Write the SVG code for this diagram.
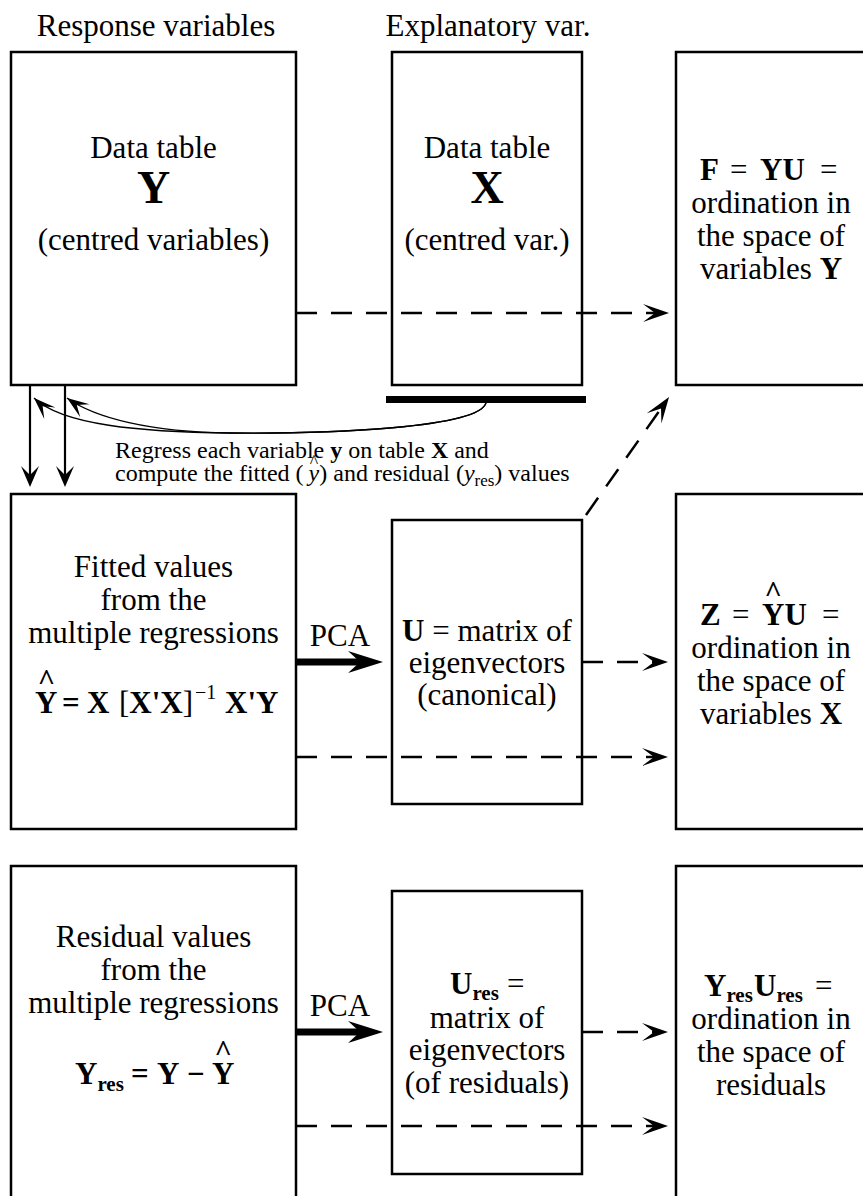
<svg xmlns="http://www.w3.org/2000/svg" width="863" height="1196" viewBox="0 0 863 1196">
<style>
.t{font-family:"Liberation Serif","Times New Roman",serif;font-size:31px;fill:#000}
.m{text-anchor:middle}
.b{font-weight:bold}
.n{font-weight:normal}
.big{font-size:46px;font-weight:bold}
.s{font-size:24px}
.sub{font-size:21px}
.hat{font-family:"Liberation Serif","Times New Roman",serif;font-size:30px;font-weight:bold;text-anchor:middle;fill:#000}
.box{fill:#fff;stroke:#000;stroke-width:2.5}
.dash{fill:none;stroke:#000;stroke-width:2.5;stroke-dasharray:21 14}
.thin{fill:none;stroke:#000;stroke-width:1.3}
.solid{fill:none;stroke:#000;stroke-width:2.2}
</style>
<defs>
<marker id="ah" markerUnits="userSpaceOnUse" viewBox="-14 -10 30 20" refX="0" refY="0" markerWidth="30" markerHeight="20" orient="auto">
<path d="M14,0 L-12,-9 L0,0 L-12,9 Z" fill="#000"/>
</marker>
<marker id="ahs" markerUnits="userSpaceOnUse" viewBox="-24 -10 26 20" refX="0" refY="0" markerWidth="26" markerHeight="20" orient="auto">
<path d="M0,0 L-22,-8 L-12,0 L-22,8 Z" fill="#000"/>
</marker>
</defs>
<rect width="863" height="1196" fill="#fff"/>

<text class="t m" x="156" y="36">Response variables</text>
<text class="t m" x="488" y="36">Explanatory var.</text>

<g id="nodeY">
<rect class="box" x="11" y="52" width="285" height="333"/>
<text class="t m" x="153.5" y="158">Data table</text>
<text class="t m big" x="153.5" y="203">Y</text>
<text class="t m" x="153.5" y="250">(centred variables)</text>
</g>

<g id="nodeX">
<rect class="box" x="392" y="52" width="190" height="333"/>
<text class="t m" x="487" y="158">Data table</text>
<text class="t m big" x="487" y="203">X</text>
<text class="t m" x="487" y="250">(centred var.)</text>
<rect x="386" y="396" width="200" height="7" fill="#000"/>
</g>

<g id="nodeF">
<rect class="box" x="676" y="52" width="190" height="333"/>
<text class="t" y="180"><tspan x="700" class="b">F</tspan><tspan x="730">=</tspan><tspan x="760" class="b">YU</tspan><tspan x="820">=</tspan></text>
<text class="t m" x="771" y="213">ordination in</text>
<text class="t m" x="771" y="246">the space of</text>
<text class="t m" x="771" y="279">variables <tspan class="b">Y</tspan></text>
</g>

<g id="nodeFitted">
<rect class="box" x="11" y="494" width="285" height="335"/>
<text class="t m" x="153.5" y="577">Fitted values</text>
<text class="t m" x="153.5" y="610">from the</text>
<text class="t m" x="153.5" y="643">multiple regressions</text>
<text class="t b" y="713"><tspan x="35">Y</tspan><tspan x="62">=</tspan><tspan x="87">X</tspan><tspan x="119" class="n">[</tspan><tspan>X'X</tspan><tspan class="n">]</tspan><tspan class="n" font-size="20" x="195" dy="-14">−1</tspan><tspan x="225" dy="14">X'Y</tspan></text>
<text class="hat" x="46.5" y="690">^</text>
</g>

<g id="nodeU">
<rect class="box" x="392" y="520" width="190" height="284"/>
<text class="t m" x="487" y="641"><tspan class="b">U</tspan> = matrix of</text>
<text class="t m" x="487" y="673">eigenvectors</text>
<text class="t m" x="487" y="705">(canonical)</text>
</g>

<g id="nodeZ">
<rect class="box" x="676" y="494" width="190" height="335"/>
<text class="t" y="625"><tspan x="700" class="b">Z</tspan><tspan x="732">=</tspan><tspan x="762" class="b">YU</tspan><tspan x="822">=</tspan></text>
<text class="hat" x="773.2" y="602">^</text>
<text class="t m" x="771" y="658">ordination in</text>
<text class="t m" x="771" y="691">the space of</text>
<text class="t m" x="771" y="724">variables <tspan class="b">X</tspan></text>
</g>

<g id="nodeResidual">
<rect class="box" x="11" y="866" width="285" height="333"/>
<text class="t m" x="153.5" y="947">Residual values</text>
<text class="t m" x="153.5" y="980">from the</text>
<text class="t m" x="153.5" y="1013">multiple regressions</text>
<text class="t b" y="1084"><tspan x="75">Y</tspan><tspan class="sub" dy="7">res</tspan><tspan x="131" dy="-7">=</tspan><tspan x="157">Y</tspan><tspan x="187">−</tspan><tspan x="212">Y</tspan></text>
<text class="hat" x="223.2" y="1061">^</text>
</g>

<g id="nodeUres">
<rect class="box" x="392" y="891" width="190" height="283"/>
<text class="t" y="994"><tspan x="450" class="b">U</tspan><tspan class="b sub" dy="6">res</tspan><tspan x="507" dy="-6">=</tspan></text>
<text class="t m" x="487" y="1028">matrix of</text>
<text class="t m" x="487" y="1060">eigenvectors</text>
<text class="t m" x="487" y="1093">(of residuals)</text>
</g>

<g id="nodeYresUres">
<rect class="box" x="676" y="866" width="190" height="333"/>
<text class="t b" y="996"><tspan x="704">Y</tspan><tspan class="sub" dy="6">res</tspan><tspan x="754" dy="-6">U</tspan><tspan class="sub" dy="6">res</tspan><tspan x="815" dy="-6" class="n">=</tspan></text>
<text class="t m" x="771" y="1029">ordination in</text>
<text class="t m" x="771" y="1062">the space of</text>
<text class="t m" x="771" y="1095">residuals</text>
</g>

<g id="connectors">
<line class="dash" x1="296" y1="313" x2="655" y2="313" marker-end="url(#ah)"/>
<line class="dash" x1="586" y1="515" x2="661" y2="408.5" marker-end="url(#ah)"/>
<line class="dash" x1="582" y1="662" x2="654" y2="662" marker-end="url(#ah)"/>
<line class="dash" x1="296" y1="757" x2="654" y2="757" marker-end="url(#ah)"/>
<line class="dash" x1="582" y1="1032" x2="654" y2="1032" marker-end="url(#ah)"/>
<line class="dash" x1="296" y1="1126" x2="654" y2="1126" marker-end="url(#ah)"/>

<line x1="296" y1="662" x2="362" y2="662" stroke="#000" stroke-width="7"/>
<path d="M383,662 L348,651 L360,662 L348,673 Z" fill="#000"/>
<text class="t m" x="340" y="646">PCA</text>
<line x1="296" y1="1032" x2="362" y2="1032" stroke="#000" stroke-width="7"/>
<path d="M383,1032 L348,1021 L360,1032 L348,1043 Z" fill="#000"/>
<text class="t m" x="340" y="1016">PCA</text>

<line class="solid" x1="30" y1="385" x2="30" y2="476"/>
<path d="M30,487 L21,466 L30,475 L39,466 Z" fill="#000"/>
<line class="solid" x1="65" y1="385" x2="65" y2="476"/>
<path d="M65,487 L56,466 L65,475 L74,466 Z" fill="#000"/>

<path class="thin" d="M486,403 C478,428 330,434 230,433 C140,432 62,425 34,398" marker-end="url(#ahs)"/>
<path class="thin" d="M486,403 C478,428 330,434 230,433 C150,432 95,418 67,398" marker-end="url(#ahs)"/>

<text class="t s" x="115" y="458">Regress each variable <tspan class="b">y</tspan> on table <tspan class="b">X</tspan> and</text>
<text class="t s" x="115" y="481">compute the fitted (<tspan font-style="italic" dx="5">y</tspan>) and residual (<tspan font-style="italic">y</tspan><tspan font-size="17" dy="5">res</tspan><tspan dy="-5">) values</tspan></text>
<text class="hat" style="font-size:18px;font-weight:normal" x="314" y="468">^</text>
</g>
</svg>
